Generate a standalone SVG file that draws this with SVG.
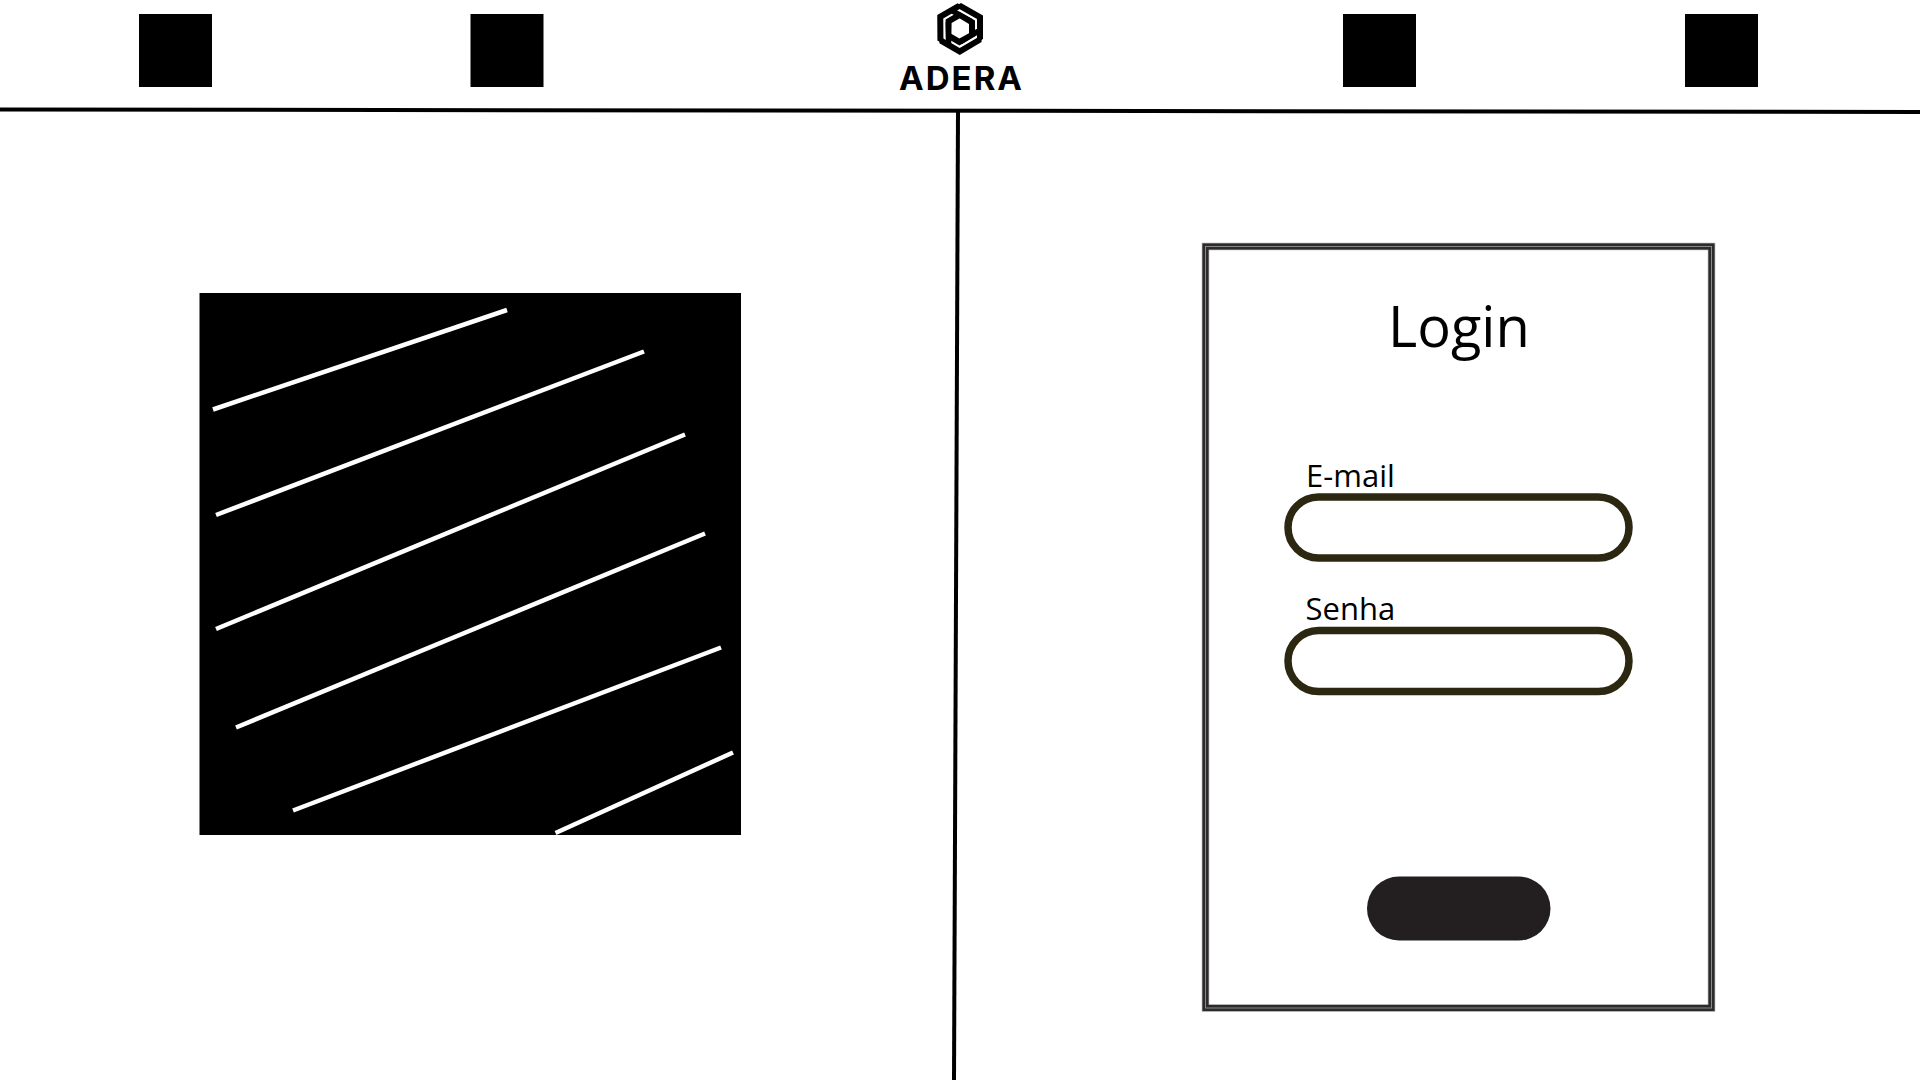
<svg xmlns="http://www.w3.org/2000/svg" width="1920" height="1080" viewBox="0 0 1920 1080">
<style>
.sq{fill:#000}
.rule{stroke:#000;stroke-width:4;fill:none}
.hatch{stroke:#fff;stroke-width:4.500;fill:none}
.inp{fill:#fff;stroke:#2b2710;stroke-width:7.500}
.t{font-family:"Open Sans","Liberation Sans",sans-serif;fill:#000}
.lg{fill:#000}
</style>
<defs>
<g id="arm">
<polygon class="lg" points="961,3 983,15.500 983,39 977,42.500 977,19 955,6.500"/>
<polygon class="lg" points="953,8 975,20.500 975,36 962,44 958,40.500 969,34 969,24 949,12"/>
</g>
</defs>
<rect width="1920" height="1080" fill="#fff"/>
<g id="connectors">
<line class="rule" x1="0" y1="109.500" x2="1920" y2="112"/>
<line class="rule" x1="958" y1="112" x2="954" y2="1080"/>
</g>
<g id="nav-1"><rect class="sq" x="139" y="14" width="73" height="73"/></g>
<g id="nav-2"><rect class="sq" x="470.500" y="14" width="73" height="73"/></g>
<g id="logo">
<use href="#arm"/>
<use href="#arm" transform="rotate(120 960 28.500)"/>
<use href="#arm" transform="rotate(240 960 28.500)"/>
<text x="899" y="89.500" font-family="Inter,'Open Sans',sans-serif" font-weight="700" font-size="33" textLength="123" lengthAdjust="spacing">ADERA</text>
</g>
<g id="nav-3"><rect class="sq" x="1343" y="14" width="73" height="73"/></g>
<g id="nav-4"><rect class="sq" x="1685" y="14" width="73" height="73"/></g>
<g id="image-panel">
<rect x="199.500" y="293" width="541.500" height="542" fill="#000"/>
<line class="hatch" x1="213" y1="409.500" x2="507" y2="310"/>
<line class="hatch" x1="216" y1="515" x2="644" y2="351.500"/>
<line class="hatch" x1="216" y1="629" x2="685" y2="434.500"/>
<line class="hatch" x1="236" y1="727.500" x2="705" y2="533.500"/>
<line class="hatch" x1="293" y1="810.500" x2="721" y2="647.500"/>
<line class="hatch" x1="555.500" y1="833" x2="733" y2="752.500"/>
</g>
<g id="login-card">
<rect x="1205.500" y="246.500" width="506" height="761.500" fill="#fff" stroke="#b0b0b0" stroke-width="7.500"/>
<rect x="1205.500" y="246.500" width="506" height="761.500" fill="none" stroke="#2d2a2b" stroke-width="6.200"/>
<rect x="1205.500" y="246.500" width="506" height="761.500" fill="none" stroke="#8a8a8a" stroke-width="1"/>
<text class="t" x="1388" y="347" font-size="56">Login</text>
</g>
<g id="email">
<text class="t" x="1306" y="487" font-size="31">E-mail</text>
<rect class="inp" x="1288" y="497" width="341" height="61" rx="30.500"/>
</g>
<g id="senha">
<text class="t" x="1305.500" y="620" font-size="31">Senha</text>
<rect class="inp" x="1288" y="630.500" width="341" height="61" rx="30.500"/>
</g>
<g id="button"><rect x="1367" y="876.500" width="183.500" height="64" rx="32" fill="#231f20"/></g>
</svg>
